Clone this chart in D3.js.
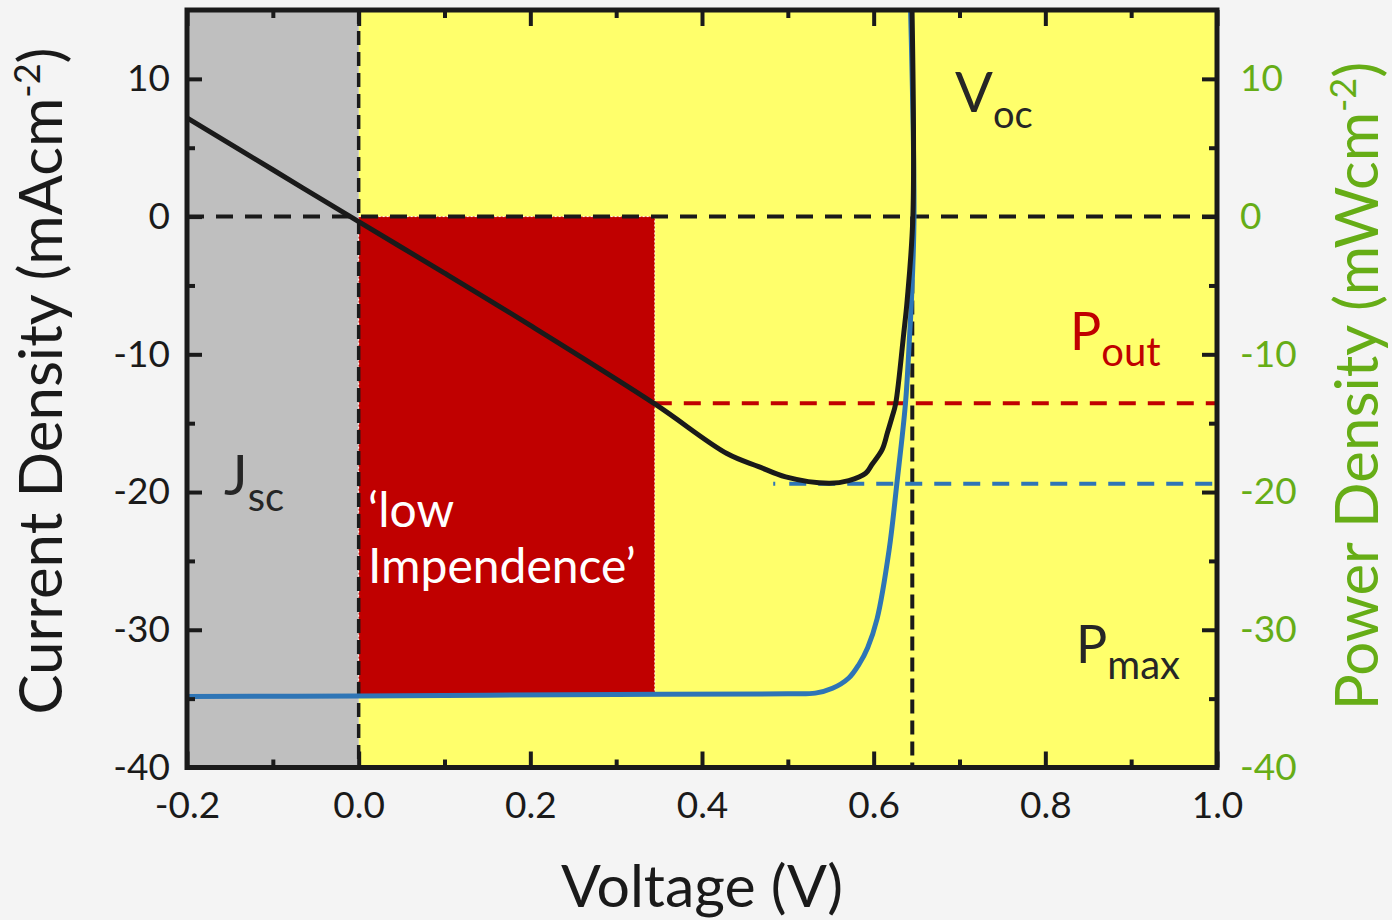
<!DOCTYPE html>
<html>
<head>
<meta charset="utf-8">
<script src="https://cdn.jsdelivr.net/npm/d3@7"></script>
<style>
  body { margin: 0; background: #f4f4f4; }
  svg text { font-family: Lato, "Open Sans", sans-serif; }
</style>
</head>
<body>
<script>
// axes
const voltTicks = [-0.2, 0.0, 0.2, 0.4, 0.6, 0.8, 1.0];
const voltMinor = [-0.1, 0.1, 0.3, 0.5, 0.7, 0.9];
const currTicks = [-40, -30, -20, -10, 0, 10];
const currMinor = [-35, -25, -15, -5, 5];

// black curve (V, mA/cm2)
const blackV = [-0.2, -0.1, 0.0, 0.1, 0.2, 0.345, 0.429, 0.466, 0.4975, 0.548, 0.571, 0.5907, 0.598, 0.61, 0.616, 0.6217, 0.6256, 0.635, 0.639, 0.6457, 0.6447];
const blackJ = [7.17, 3.4, -0.37, -4.1, -7.9, -13.6, -17.2, -18.15, -18.9, -19.36, -19.17, -18.64, -18.0, -16.9, -15.7, -14.5, -13.6, -8.5, -6.1, 0, 15];

// blue curve
const blueV = [-0.2, 0.0, 0.3, 0.5, 0.532, 0.552, 0.571, 0.583, 0.593, 0.604, 0.618, 0.627, 0.637, 0.642, 0.644, 0.647, 0.643];
const blueJ = [-34.85, -34.8, -34.7, -34.65, -34.6, -34.25, -33.5, -32.5, -31.3, -29.2, -24.2, -19.4, -13.6, -8.5, -6.1, 0, 15];

// regions and markers
const jscRegion = [-0.2, 0.0];
const powerBox = {v0: 0.0, v1: 0.345, j0: 0, j1: -34.7};
const voc = 0.645;
const poutJ = -13.55, poutV = 0.345;
const pmaxJ = -19.4, pmaxV = 0.483;

const W = 1392, H = 920;
const margin = {top: 10, right: 175, bottom: 152.5, left: 187};

const svg = d3.select("body").append("svg")
    .attr("width", W).attr("height", H);

const x = d3.scaleLinear().domain([-0.2, 1.0]).range([margin.left, W - margin.right]);
const y = d3.scaleLinear().domain([-40, 15]).range([H - margin.bottom, margin.top]);
const x0 = x.range()[0], x1 = x.range()[1], y0 = y.range()[0], y1 = y.range()[1];

// backgrounds
svg.append("rect").attr("x", x(0)).attr("y", y1).attr("width", x1 - x(0)).attr("height", y0 - y1)
    .attr("fill", "#ffff6b");
svg.append("rect").attr("x", x(jscRegion[0])).attr("y", y1)
    .attr("width", x(jscRegion[1]) - x(jscRegion[0])).attr("height", y0 - y1)
    .attr("fill", "#bfbfbf");
svg.append("rect").attr("x", x(powerBox.v0)).attr("y", y(powerBox.j0))
    .attr("width", x(powerBox.v1) - x(powerBox.v0)).attr("height", y(powerBox.j1) - y(powerBox.j0))
    .attr("fill", "#c00000").attr("stroke", "#fff").attr("stroke-width", 1).attr("stroke-dasharray", "2,2");

// dashed guides
const dash = "17,12";
svg.append("line").attr("x1", x0).attr("x2", x1).attr("y1", y(0)).attr("y2", y(0))
    .attr("stroke", "#1a1a1a").attr("stroke-width", 4).attr("stroke-dasharray", dash);
svg.append("line").attr("x1", x(0)).attr("x2", x(0)).attr("y1", y1).attr("y2", y0)
    .attr("stroke", "#1a1a1a").attr("stroke-width", 3.5).attr("stroke-dasharray", "14,7");
svg.append("line").attr("x1", x(voc)).attr("x2", x(voc)).attr("y1", y(0)).attr("y2", y0)
    .attr("stroke", "#1a1a1a").attr("stroke-width", 4).attr("stroke-dasharray", "14,7");
svg.append("line").attr("x1", x(poutV)).attr("x2", x1).attr("y1", y(poutJ)).attr("y2", y(poutJ))
    .attr("stroke", "#c00000").attr("stroke-width", 4).attr("stroke-dasharray", dash);
svg.append("line").attr("x1", x(pmaxV)).attr("x2", x1).attr("y1", y(pmaxJ)).attr("y2", y(pmaxJ))
    .attr("stroke", "#2e75b6").attr("stroke-width", 4)
    .attr("stroke-dasharray", "2,14," + d3.range(20).map(() => dash).join(","));

// curves
const line = d3.line().x(d => x(d[0])).y(d => y(d[1])).curve(d3.curveCatmullRom.alpha(0.5));
svg.append("path").datum(blueV.map((v, i) => [v, blueJ[i]]))
    .attr("d", line).attr("fill", "none").attr("stroke", "#2e75b6").attr("stroke-width", 5);
svg.append("path").datum(blackV.map((v, i) => [v, blackJ[i]]))
    .attr("d", line).attr("fill", "none").attr("stroke", "#1a1a1a").attr("stroke-width", 5);

// axes
function styleAxis(g) {
    g.select(".domain").remove();
    g.selectAll(".tick line").attr("stroke", "#1a1a1a").attr("stroke-width", 4);
    g.selectAll("text").attr("font-size", 37).attr("fill", "#1a1a1a");
}
const fmtV = d => d.toFixed(1);
const fmtJ = d => String(d);
svg.append("g").attr("transform", `translate(0,${y0})`)
    .call(d3.axisBottom(x).tickValues(voltTicks).tickFormat(fmtV).tickSize(-16).tickPadding(24))
    .call(styleAxis);
svg.append("g").attr("transform", `translate(0,${y0})`)
    .call(d3.axisBottom(x).tickValues(voltMinor).tickFormat("").tickSize(-8))
    .call(styleAxis);
svg.append("g").attr("transform", `translate(0,${y1})`)
    .call(d3.axisTop(x).tickValues(voltTicks).tickFormat("").tickSize(-16))
    .call(styleAxis);
svg.append("g").attr("transform", `translate(0,${y1})`)
    .call(d3.axisTop(x).tickValues(voltMinor).tickFormat("").tickSize(-8))
    .call(styleAxis);
svg.append("g").attr("transform", `translate(${x0},0)`)
    .call(d3.axisLeft(y).tickValues(currTicks).tickFormat(fmtJ).tickSize(-15).tickPadding(17))
    .call(styleAxis);
svg.append("g").attr("transform", `translate(${x0},0)`)
    .call(d3.axisLeft(y).tickValues(currMinor).tickFormat("").tickSize(-8))
    .call(styleAxis);
const right = svg.append("g").attr("transform", `translate(${x1},0)`)
    .call(d3.axisRight(y).tickValues(currTicks).tickFormat(fmtJ).tickSize(-15).tickPadding(23))
    .call(styleAxis);
right.selectAll("text").attr("fill", "#66ad16");
svg.append("g").attr("transform", `translate(${x1},0)`)
    .call(d3.axisRight(y).tickValues(currMinor).tickFormat("").tickSize(-8))
    .call(styleAxis);

// frame
svg.append("rect").attr("x", x0).attr("y", y1).attr("width", x1 - x0).attr("height", y0 - y1)
    .attr("fill", "none").attr("stroke", "#1a1a1a").attr("stroke-width", 5);

// titles
svg.append("text").attr("x", (x0 + x1) / 2).attr("y", 907).attr("text-anchor", "middle")
    .attr("font-size", 59).attr("fill", "#1a1a1a").text("Voltage (V)");

const yt = svg.append("text").attr("transform", "translate(62,381) rotate(-90)")
    .attr("text-anchor", "middle").attr("font-size", 60).attr("fill", "#1a1a1a");
yt.append("tspan").text("Current Density (mAcm");
yt.append("tspan").attr("font-size", 36).attr("dy", -22).text("-2");
yt.append("tspan").attr("dy", 22).text(")");

const rt = svg.append("text").attr("transform", "translate(1378,386) rotate(-90)")
    .attr("text-anchor", "middle").attr("font-size", 60).attr("fill", "#66ad16");
rt.append("tspan").text("Power Density (mWcm");
rt.append("tspan").attr("font-size", 36).attr("dy", -22).text("-2");
rt.append("tspan").attr("dy", 22).text(")");

// annotations
function subLabel(px, py, main, sub, color, size, subSize, drop) {
    const t = svg.append("text").attr("x", px).attr("y", py).attr("fill", color).attr("font-size", size);
    t.append("tspan").text(main);
    t.append("tspan").attr("font-size", subSize).attr("dy", drop).text(sub);
}
subLabel(224, 495, "J", "sc", "#262626", 56, 40, 16);
subLabel(955, 112, "V", "oc", "#262626", 56, 38, 16);
subLabel(1070, 350, "P", "out", "#c00000", 52, 40, 16);
subLabel(1076, 663, "P", "max", "#262626", 52, 40, 16);

svg.append("text").attr("x", 368).attr("y", 527).attr("fill", "#fff").attr("font-size", 48).text("\u2018low");
svg.append("text").attr("x", 368).attr("y", 583).attr("fill", "#fff").attr("font-size", 48).text("Impendence\u2019");
</script>
</body>
</html>
